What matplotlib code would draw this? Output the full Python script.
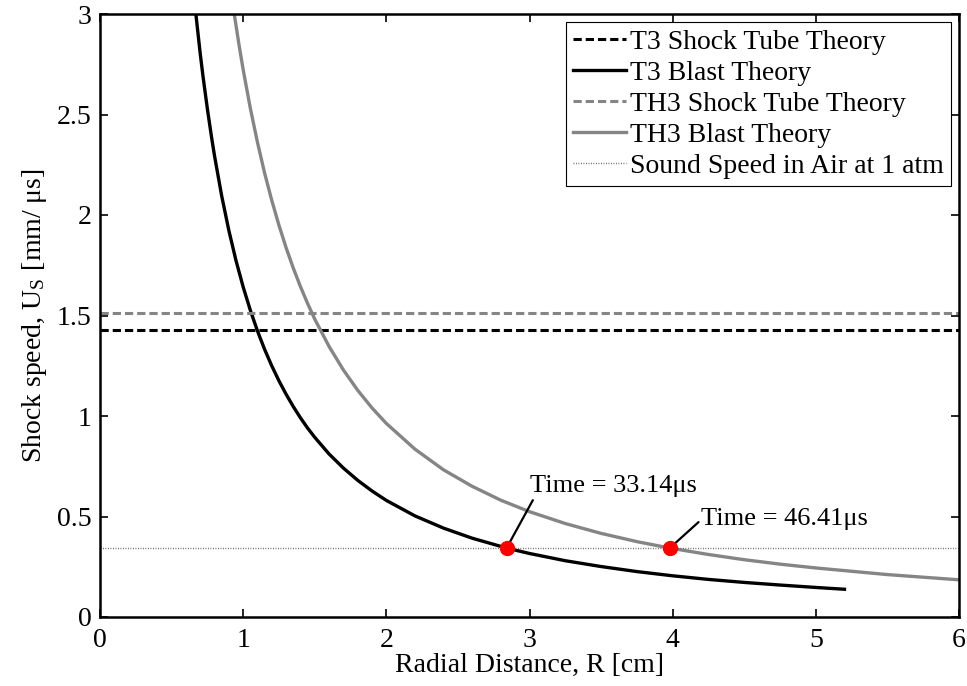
import matplotlib
matplotlib.use("Agg")
import matplotlib.pyplot as plt

plt.rcParams['font.family'] = ['Liberation Serif', 'DejaVu Serif']
plt.rcParams['mathtext.fontset'] = 'stix'

# Data
t3_shock = 1.43
th3_shock = 1.51
sound_speed = 0.343

t3_R = [0.66, 0.70, 0.72, 0.75, 0.78, 0.80, 0.85, 0.90, 0.95, 1.00, 1.05, 1.10, 1.15, 1.20, 1.25,
        1.30, 1.35, 1.40, 1.45, 1.50, 1.60, 1.70, 1.80, 1.90, 2.00, 2.20, 2.40, 2.60, 2.84, 3.00,
        3.25, 3.50, 3.75, 4.00, 4.25, 4.50, 4.75, 5.00, 5.20]
t3_U = [3.062, 2.803, 2.687, 2.528, 2.383, 2.294, 2.095, 1.923, 1.773, 1.642, 1.526, 1.423, 1.331,
        1.249, 1.175, 1.108, 1.047, 0.991, 0.940, 0.894, 0.811, 0.741, 0.680, 0.627, 0.580, 0.503,
        0.442, 0.392, 0.343, 0.316, 0.280, 0.251, 0.226, 0.205, 0.187, 0.172, 0.159, 0.147, 0.138]

th3_R = [0.93, 0.97, 1.00, 1.05, 1.10, 1.15, 1.20, 1.25, 1.30, 1.35, 1.40, 1.45, 1.50, 1.60, 1.70,
         1.80, 1.90, 2.00, 2.20, 2.40, 2.60, 2.80, 3.00, 3.25, 3.50, 3.75, 3.98, 4.25, 4.50, 4.75,
         5.00, 5.50, 6.00]
th3_U = [3.036, 2.851, 2.723, 2.531, 2.361, 2.208, 2.072, 1.949, 1.837, 1.736, 1.644, 1.560, 1.482,
         1.346, 1.229, 1.128, 1.040, 0.963, 0.835, 0.732, 0.650, 0.581, 0.524, 0.465, 0.416, 0.375,
         0.343, 0.311, 0.285, 0.263, 0.244, 0.211, 0.185]

mark_R = [2.84, 3.98]
mark_U = [0.343, 0.343]
mark_labels = ['Time = 33.14\u03bcs', 'Time = 46.41\u03bcs']

fig = plt.figure(figsize=(9.67, 6.86), dpi=100)
ax = fig.add_axes([100 / 967, 69 / 686, 859 / 967, 603 / 686])

gray = '#858585'
ax.plot([0, 6], [t3_shock, t3_shock], '--', color='black', lw=2.2, dashes=(2.7, 1.3),
        label='T3 Shock Tube Theory')
ax.plot(t3_R, t3_U, '-', color='black', lw=2.4, label='T3 Blast Theory')
ax.plot([0, 6], [th3_shock, th3_shock], '--', color=gray, lw=2.2, dashes=(2.7, 1.3),
        label='TH3 Shock Tube Theory')
ax.plot(th3_R, th3_U, '-', color=gray, lw=2.4, label='TH3 Blast Theory')
ax.plot([0, 6], [sound_speed, sound_speed], color='#555555', lw=1.0, linestyle=(0, (0.6, 1.2)),
        label='Sound Speed in Air at 1 atm')

ax.plot(mark_R, mark_U, 'o', color='red', ms=10, zorder=5)

ax.annotate(mark_labels[0], xy=(mark_R[0], mark_U[0]), xytext=(3.0, 0.595), fontsize=19,
            ha='left', va='bottom',
            arrowprops=dict(arrowstyle='-', color='black', lw=1.6, shrinkA=0, shrinkB=4,
                            relpos=(0.04, 0.15)))
ax.annotate(mark_labels[1], xy=(mark_R[1], mark_U[1]), xytext=(4.2, 0.49), fontsize=19,
            ha='left', va='center',
            arrowprops=dict(arrowstyle='-', color='black', lw=1.6, shrinkA=0, shrinkB=4,
                            relpos=(0.0, 0.45)))

ax.set_xlim(0, 6)
ax.set_ylim(0, 3)
ax.set_xticks([0, 1, 2, 3, 4, 5, 6])
ax.set_yticks([0, 0.5, 1, 1.5, 2, 2.5, 3])
ax.set_yticklabels(['0', '0.5', '1', '1.5', '2', '2.5', '3'])
ax.tick_params(direction='in', top=True, right=True, labelsize=20, length=6, width=1.2)
ax.tick_params(axis='x', pad=8)
ax.tick_params(axis='y', pad=6)
for s in ax.spines.values():
    s.set_linewidth(1.8)

ax.set_xlabel('Radial Distance, R [cm]', fontsize=20, labelpad=0)
ax.set_ylabel('Shock speed, U$_\\mathregular{S}$ [mm/ \u03bcs]', fontsize=20, labelpad=6)

leg = ax.legend(loc='upper right', fontsize=20, handlelength=1.9, handletextpad=0.15,
                borderpad=0.25, labelspacing=0.2, fancybox=False, framealpha=1,
                edgecolor='black', borderaxespad=0.3)
leg.get_frame().set_linewidth(0.8)

fig.savefig('out.png', dpi=100)
